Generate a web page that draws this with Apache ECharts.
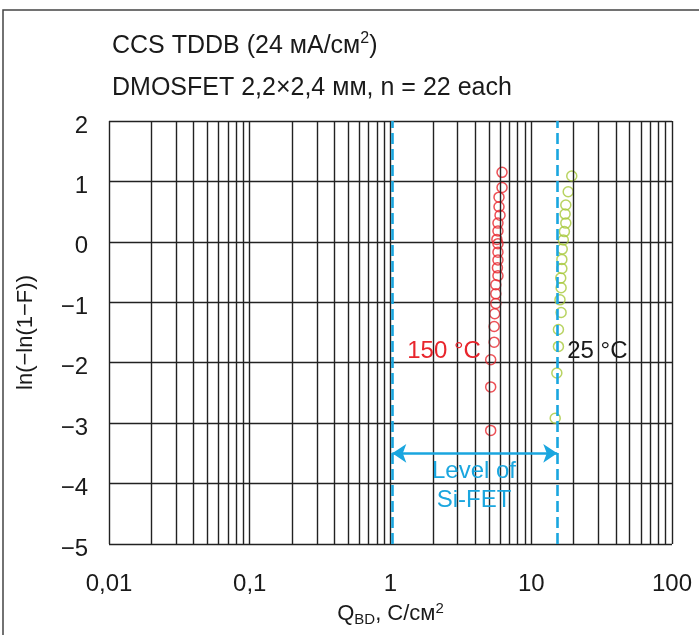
<!DOCTYPE html>
<html>
<head>
<meta charset="utf-8">
<script src="https://cdn.jsdelivr.net/npm/echarts@6/dist/echarts.min.js"></script>
<style>html,body{margin:0;padding:0;background:#fff}#c{width:699px;height:635px}</style>
</head>
<body>
<div id="c"></div>
<script>
// ---- data ----
const title1 = 'CCS TDDB (24 мА/см{sup|2})';
const title2 = 'DMOSFET 2,2×2,4 мм, n = 22 each';
const xTickLabels = {'-2':'0,01','-1':'0,1','0':'1','1':'10','2':'100'};
const yMin = -5, yMax = 2;
const xMin = 0.01, xMax = 100;
// 150 °C points [Q_BD, ln(-ln(1-F))]
const red150 = [
  [5.15,-3.12],[5.15,-2.40],[5.15,-1.95],[5.45,-1.66],[5.45,-1.40],[5.5,-1.19],
  [5.6,-1.02],[5.6,-0.86],[5.6,-0.71],[5.8,-0.56],[5.75,-0.43],[5.8,-0.30],
  [5.8,-0.17],[5.8,-0.03],[5.7,0.04],[5.8,0.18],[5.8,0.31],[6.0,0.44],
  [5.9,0.58],[5.9,0.74],[6.2,0.90],[6.2,1.15]
];
// 25 °C points
const green25 = [
  [14.8,-2.92],[15.2,-2.17],[15.6,-1.73],[15.6,-1.45],[16.3,-1.17],[16.0,-0.96],
  [16.3,-0.76],[16.2,-0.60],[16.5,-0.44],[16.5,-0.29],[16.6,-0.12],[16.9,0.03],
  [17.2,0.17],[17.6,0.31],[17.4,0.46],[17.6,0.61],[18.3,0.83],[19.4,1.09]
];
// vertical log grid lines
const gridX = [];
[0.01,0.1,1,10].forEach(d=>{for(let k=1;k<10;k++) gridX.push(+(d*k).toPrecision(3));});
gridX.push(100);
const siFetLevel = [1.03, 15.3];
const arrowY = -3.5;
const labels = [
  {text:'150 °C', coord:[2.4,-1.82], color:'#e8262d'},
  {text:'25 °C', coord:[29.5,-1.82], color:'#1a1a1a'},
  {text:'Level of', coord:[3.92,-3.8], color:'#1aa6df'},
  {text:'Si-FET', coord:[3.92,-4.28], color:'#1aa6df'}
];

const FONT = '"Liberation Sans", Arial, sans-serif';
const RED = '#e8262d', GREEN = '#a6c83a', BLUE = '#1aa6df', GRID = '#222';

const chart = echarts.init(document.getElementById('c'), null, {renderer:'canvas'});
chart.setOption({
  animation:false,
  backgroundColor:'#fff',
  textStyle:{fontFamily:FONT},
  grid:{left:109,right:27,top:121,bottom:91,containLabel:false,outerBoundsMode:'none'},
  graphic:[
    {type:'rect', z:0, silent:true, shape:{x:3,y:10,width:760,height:700},
     style:{fill:'none',stroke:'#444',lineWidth:1.5}},
    {type:'text', x:112, y:46, style:{text:title1, fontFamily:FONT, fontSize:25, fill:'#1a1a1a', verticalAlign:'middle',
      rich:{sup:{fontSize:16, verticalAlign:'top', padding:[0,0,14,0], fontFamily:FONT, fill:'#1a1a1a'}}}},
    {type:'text', x:112, y:88, style:{text:title2, fontFamily:FONT, fontSize:25, fill:'#1a1a1a', verticalAlign:'middle'}}
  ],
  xAxis:{
    type:'log', logBase:10, min:xMin, max:xMax,
    axisLine:{show:false}, axisTick:{show:false}, splitLine:{show:false},
    axisLabel:{fontSize:24, color:'#1a1a1a', margin:28, fontFamily:FONT,
      formatter:v=>xTickLabels[String(Math.round(Math.log10(v)))]||''},
    name:'Q{sub|BD}, C/см{sup|2}', nameLocation:'middle', nameGap:55,
    nameTextStyle:{fontSize:22, color:'#1a1a1a', fontFamily:FONT,
      rich:{sub:{fontSize:15, padding:[10,0,0,0], fontFamily:FONT, color:'#1a1a1a'},
            sup:{fontSize:15, padding:[0,0,12,0], fontFamily:FONT, color:'#1a1a1a'}}}
  },
  yAxis:{
    type:'value', min:yMin, max:yMax, interval:1,
    axisLine:{show:false}, axisTick:{show:false},
    splitLine:{show:true, lineStyle:{color:GRID, width:1.4}},
    axisLabel:{fontSize:24, color:'#1a1a1a', margin:21, verticalAlign:'top', lineHeight:10, fontFamily:FONT,
      formatter:v=>String(v).replace('-','\u2212')},
    name:'ln(\u2212ln(1\u2212F))', nameLocation:'middle', nameGap:72, nameRotate:90,
    nameTextStyle:{fontSize:22, color:'#1a1a1a', fontFamily:FONT}
  },
  series:[
    {type:'scatter', data:[], z:1, silent:true,
     markLine:{silent:true, symbol:'none', animation:false, label:{show:false},
       lineStyle:{color:GRID, width:1.4, type:'solid'},
       data:gridX.map(v=>({xAxis:v}))}},
    {type:'scatter', data:[], z:3, silent:true,
     markLine:{silent:true, symbol:'none', animation:false, label:{show:false},
       lineStyle:{color:BLUE, width:2.6, type:[11,5]},
       data:siFetLevel.map(v=>({xAxis:v}))}},
    {type:'scatter', data:[], z:3, silent:true,
     markLine:{silent:true, symbol:['arrow','arrow'], symbolSize:14, animation:false, label:{show:false},
       lineStyle:{color:BLUE, width:2.6, type:'solid'},
       data:[[{coord:[siFetLevel[0],arrowY]},{coord:[siFetLevel[1],arrowY]}]]},
     markPoint:{silent:true, symbol:'circle', symbolSize:0, animation:false,
       data:labels.map(l=>({coord:l.coord, label:{show:true, position:'inside', formatter:l.text,
         fontSize:24, color:l.color, fontFamily:FONT}}))}},
    {type:'scatter', name:'150', data:red150, z:4, symbol:'circle', symbolSize:10,
     itemStyle:{color:'rgba(0,0,0,0)', borderColor:RED, borderWidth:1.5}},
    {type:'scatter', name:'25', data:green25, z:4, symbol:'circle', symbolSize:10,
     itemStyle:{color:'rgba(0,0,0,0)', borderColor:GREEN, borderWidth:1.5}}
  ]
});
</script>
</body>
</html>
